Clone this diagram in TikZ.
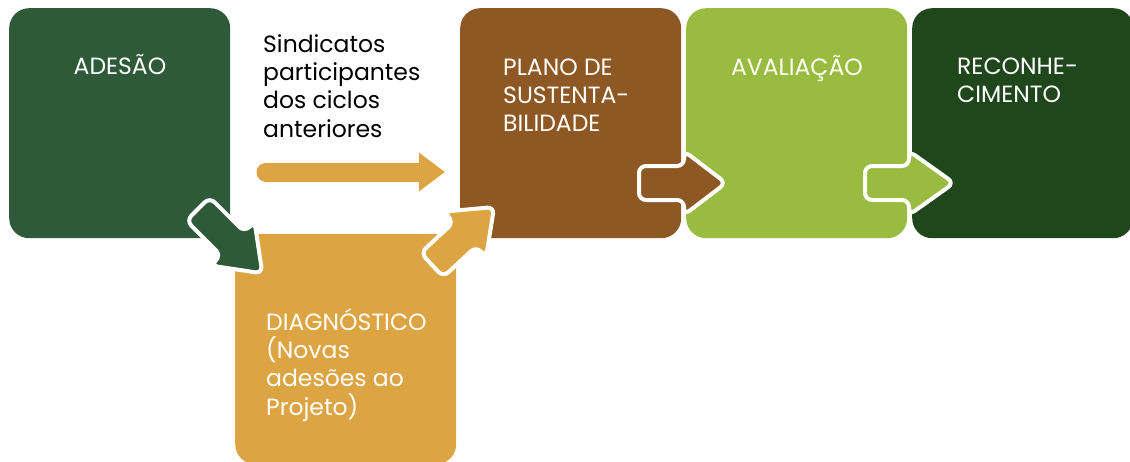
\documentclass[tikz,border=0pt]{standalone}
\usepackage{fontspec}
\setmainfont{Poppins}
\usetikzlibrary{arrows.meta,calc}
\definecolor{cadesao}{HTML}{2E5A3A}
\definecolor{corange}{HTML}{DCA443}
\definecolor{cbrown}{HTML}{8E5824}
\definecolor{clgreen}{HTML}{98BB40}
\definecolor{cdgreen}{HTML}{20461C}
\newcommand\blockarrow[7]{%
  \draw[fill=#7, draw=white, line width=4, rounded corners=7, shift={(#1)}, rotate=#2]
    (0,-#4) -- ({#3-#6},-#4) -- ({#3-#6},-#5) -- (#3,0) -- ({#3-#6},#5) -- ({#3-#6},#4) -- (0,#4) -- cycle;}
\begin{document}
\begin{tikzpicture}[x=1pt,y=-1pt,
  box/.style={rectangle, rounded corners=20, draw=none, anchor=north west, inner sep=0},
  wtext/.style={text=white, inner sep=0, align=left, font=\fontsize{23.5}{28.3}\selectfont},
  btext/.style={text=black, inner sep=0, align=left, font=\fontsize{23.5}{28.3}\selectfont}]
\useasboundingbox (0,0) rectangle (1130,461);
\begin{scope}
\clip (0,0) rectangle (1130,461);
\node[box, fill=cadesao, minimum width=221, minimum height=230] (adesao) at (9,8) {};
\node[box, fill=corange, minimum width=221, minimum height=230] (diag) at (235,234) {};
\node[box, fill=cbrown, minimum width=221, minimum height=230] (plano) at (460,8) {};
\node[box, fill=clgreen, minimum width=221, minimum height=230] (aval) at (686,8) {};
\node[box, fill=cdgreen, minimum width=221, minimum height=230] (recon) at (912,8) {};

% multi-line nodes: base anchor is the last line's baseline
\node[wtext, anchor=base] (tadesao) at (120,74) {ADESÃO};
\node[wtext, anchor=base west] (tplano) at (503,131.6) {PLANO DE\\SUSTENTA-\\BILIDADE};
\node[wtext, anchor=base] (taval) at (797,75) {AVALIAÇÃO};
\node[wtext, anchor=base west] (trecon) at (957,102.3) {RECONHE-\\CIMENTO};
\node[btext, anchor=base west] (tsind) at (263,137) {Sindicatos\\participantes\\dos ciclos\\anteriores};
\node[wtext, anchor=base west] (tdiag) at (266,415) {DIAGNÓSTICO\\(Novas\\adesões ao\\Projeto)};

\coordinate (h1) at (266,172);
\coordinate (h2) at (445,172);
\draw[corange, line width=19, line cap=round, -{Triangle[length=26pt,width=37pt]}] (h1) -- (h2);

\coordinate (a1) at (198,209);
\coordinate (a2) at (432,265);
\coordinate (a3) at (639,183);
\coordinate (a4) at (865,183);
\blockarrow{a1}{-45}{91}{16.5}{31}{42}{cadesao}
\blockarrow{a2}{43}{85}{16.5}{31}{40}{corange}
\blockarrow{a3}{0}{87}{17}{32}{42}{cbrown}
\blockarrow{a4}{0}{89}{17}{32}{45}{clgreen}
\end{scope}
\end{tikzpicture}
\end{document}
